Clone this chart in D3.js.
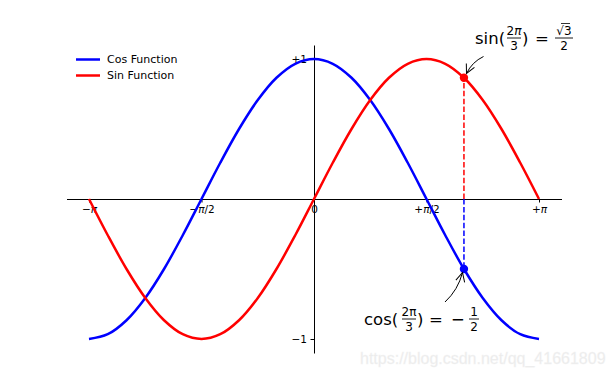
<!DOCTYPE html>
<html>
<head>
<meta charset="utf-8">
<script src="https://cdn.jsdelivr.net/npm/d3@7"></script>
<style>
  body { margin: 0; background: #fff; }
  svg { display: block; }
</style>
</head>
<body>
<div class="chart-div"></div>
<script>
// samples at pi/12 steps
var xValues = [-3.142, -2.880, -2.618, -2.356, -2.094, -1.833, -1.571, -1.309, -1.047, -0.785, -0.524, -0.262,
  0, 0.262, 0.524, 0.785, 1.047, 1.309, 1.571, 1.833, 2.094, 2.356, 2.618, 2.880, 3.142];
var cosValues = [-1, -0.966, -0.866, -0.707, -0.5, -0.259, 0, 0.259, 0.5, 0.707, 0.866, 0.966,
  1, 0.966, 0.866, 0.707, 0.5, 0.259, 0, -0.259, -0.5, -0.707, -0.866, -0.966, -1];
var sinValues = [0, -0.259, -0.5, -0.707, -0.866, -0.966, -1, -0.966, -0.866, -0.707, -0.5, -0.259,
  0, 0.259, 0.5, 0.707, 0.866, 0.966, 1, 0.966, 0.866, 0.707, 0.5, 0.259, 0];
var seriesNames = ["Cos Function", "Sin Function"];
var xTicks = [-3.142, -1.571, 0, 1.571, 3.142];
var xTickLabels = [["−", "π", ""], ["−", "π", "/2"], ["0", "", ""], ["+", "π", "/2"], ["+", "π", ""]];
var yTicks = [-1, 1];
var yTickLabels = ["−1", "+1"];
var markT = 2.094, markSin = 0.866, markCos = -0.5;

var width = 613, height = 376;
var font = "DejaVu Sans, sans-serif";

var svg = d3.select(".chart-div").append("svg").attr("width", width).attr("height", height);

var x = d3.scaleLinear().domain([-3.142 * 1.1, 3.142 * 1.1]).range([66.5, 561.5]);
var y = d3.scaleLinear().domain([-1.1, 1.1]).range([353, 45]);

var defs = svg.append("defs");
defs.append("marker").attr("id", "head").attr("viewBox", "-10 -6 12 12")
  .attr("markerWidth", 12).attr("markerHeight", 12).attr("refX", 0).attr("refY", 0)
  .attr("markerUnits", "userSpaceOnUse").attr("orient", "auto")
  .append("path").attr("d", "M-9,-4.5L0,0L-9,4.5").attr("fill", "none").attr("stroke", "#000").attr("stroke-width", 1);

// spines through the origin
var xAxis = svg.append("g").attr("transform", "translate(0," + y(0) + ")")
  .call(d3.axisBottom(x).tickValues(xTicks).tickSize(3.5).tickPadding(3.5).tickSizeOuter(0).tickFormat(""));
var yAxis = svg.append("g").attr("transform", "translate(" + x(0) + ",0)")
  .call(d3.axisLeft(y).tickValues(yTicks).tickSize(3.5).tickPadding(3.5).tickSizeOuter(0)
    .tickFormat(function(d, i) { return yTickLabels[i]; }));

svg.selectAll(".domain, .tick line").attr("stroke", "#000").attr("stroke-width", 1);
yAxis.selectAll("text").style("font-family", font).style("font-size", "10.5px").attr("fill", "#000");

xAxis.selectAll(".tick").each(function(d, i) {
  var t = d3.select(this).append("text").attr("y", 7).attr("dy", "0.71em")
    .attr("text-anchor", "middle").attr("fill", "#000")
    .style("font-family", font).style("font-size", "10.5px");
  t.append("tspan").text(xTickLabels[i][0]);
  t.append("tspan").style("font-style", "italic").text(xTickLabels[i][1]);
  t.append("tspan").text(xTickLabels[i][2]);
});

var line = d3.line().curve(d3.curveCatmullRom).x(function(d) { return x(d[0]); }).y(function(d) { return y(d[1]); });

svg.append("path").datum(d3.zip(xValues, cosValues)).attr("d", line)
  .attr("fill", "none").attr("stroke", "#0000ff").attr("stroke-width", 2.5);
svg.append("path").datum(d3.zip(xValues, sinValues)).attr("d", line)
  .attr("fill", "none").attr("stroke", "#ff0000").attr("stroke-width", 2.5);

// dashed guides and marked points
svg.append("line").attr("x1", x(markT)).attr("x2", x(markT)).attr("y1", y(0)).attr("y2", y(markCos))
  .attr("stroke", "#0000ff").attr("stroke-width", 1.5).attr("stroke-dasharray", "5.5,2.4");
svg.append("line").attr("x1", x(markT)).attr("x2", x(markT)).attr("y1", y(0)).attr("y2", y(markSin))
  .attr("stroke", "#ff0000").attr("stroke-width", 1.5).attr("stroke-dasharray", "5.5,2.4");
svg.append("circle").attr("cx", x(markT)).attr("cy", y(markCos)).attr("r", 4.2).attr("fill", "#0000ff");
svg.append("circle").attr("cx", x(markT)).attr("cy", y(markSin)).attr("r", 4.2).attr("fill", "#ff0000");

// legend
var legend = svg.append("g").attr("transform", "translate(76,59.5)");
[["#0000ff", seriesNames[0]], ["#ff0000", seriesNames[1]]].forEach(function(s, i) {
  legend.append("line").attr("x1", 0).attr("x2", 24).attr("y1", i * 16).attr("y2", i * 16)
    .attr("stroke", s[0]).attr("stroke-width", 2.5);
  legend.append("text").attr("x", 31).attr("y", i * 16).attr("dy", "0.35em")
    .style("font-family", font).style("font-size", "11px").attr("fill", "#000").text(s[1]);
});

// math labels
function txt(g, px, py, size, s, italic, anchor) {
  return g.append("text").attr("x", px).attr("y", py).attr("text-anchor", anchor || "start")
    .style("font-family", font).style("font-size", size + "px").style("font-style", italic ? "italic" : "normal")
    .attr("fill", "#000").text(s);
}
function frac(g, cx, base, num, den, w) {
  var n = g.append("text").attr("x", cx).attr("y", base - 8.5).attr("text-anchor", "middle")
    .style("font-family", font).style("font-size", "12px").attr("fill", "#000");
  num.forEach(function(p) { n.append("tspan").style("font-style", p[1] ? "italic" : "normal").text(p[0]); });
  g.append("line").attr("x1", cx - w / 2).attr("x2", cx + w / 2).attr("y1", base - 5.5).attr("y2", base - 5.5)
    .attr("stroke", "#000").attr("stroke-width", 0.9);
  txt(g, cx, base + 6.5, 12, den, false, "middle");
}

var sinG = svg.append("g");
txt(sinG, 475, 43.5, 16.5, "sin(");
frac(sinG, 514, 43.5, [["2", false], ["π", true]], "3", 14);
txt(sinG, 522, 43.5, 16.5, ")");
txt(sinG, 535, 43.5, 16.5, "=");
frac(sinG, 564, 43.5, [["√", false], ["3", false]], "2", 18);
sinG.append("line").attr("x1", 561).attr("x2", 570).attr("y1", 23.5).attr("y2", 23.5).attr("stroke", "#000").attr("stroke-width", 0.8);

var cosG = svg.append("g");
txt(cosG, 364, 324.5, 16.5, "cos(");
frac(cosG, 409, 324.5, [["2π", false]], "3", 14);
txt(cosG, 417, 324.5, 16.5, ")");
txt(cosG, 429, 324.5, 16.5, "=");
txt(cosG, 451, 324.5, 16.5, "−");
frac(cosG, 474, 324.5, [["1", false]], "2", 10);

svg.append("path").attr("d", "M483.5,56.5Q472,62 466.5,73.5").attr("fill", "none")
  .attr("stroke", "#000").attr("stroke-width", 1).attr("marker-end", "url(#head)");
svg.append("path").attr("d", "M445,302Q458,290 462.5,272.5").attr("fill", "none")
  .attr("stroke", "#000").attr("stroke-width", 1).attr("marker-end", "url(#head)");

// watermark
svg.append("text").attr("x", 360).attr("y", 364).style("font-family", "Liberation Sans, Arial, sans-serif")
  .style("font-size", "16px").attr("fill", "#ebebeb").attr("stroke", "#f4f4f4").attr("stroke-width", 0.3)
  .text("https://blog.csdn.net/qq_41661809");
</script>
</body>
</html>
